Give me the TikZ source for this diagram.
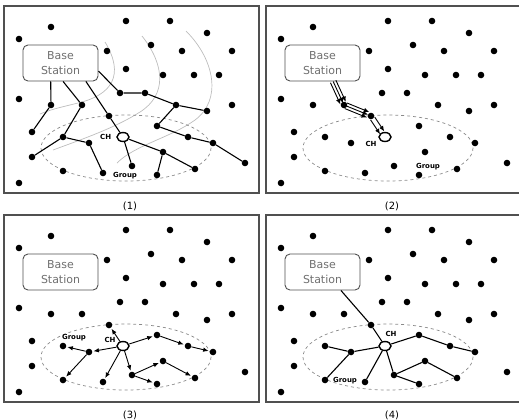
\documentclass[tikz,border=0pt]{standalone}
\usepackage{fontspec}
\setmainfont{DejaVu Sans}
\usetikzlibrary{positioning,arrows.meta,calc,shapes.geometric}
\definecolor{framegray}{HTML}{505050}
\definecolor{curvegray}{HTML}{BDBDBD}
\definecolor{textgray}{HTML}{707070}
\definecolor{dashgray}{HTML}{8A8A8A}

\tikzset{
  sensor/.style={circle, fill=black, inner sep=0pt, minimum size=6.6bp},
  head/.style={ellipse, draw=black, line width=1.4bp, fill=white, inner sep=0pt, minimum width=12bp, minimum height=9bp},
  bsbox/.style={draw=framegray, rounded corners=5bp, line width=0.9bp, fill=white, minimum width=75bp, minimum height=36bp, align=center, text=textgray, font=\fontsize{11}{14.5}\selectfont},
  panel/.style={draw=framegray, line width=1.4bp},
  group/.style={draw=dashgray, dashed, line width=0.7bp},
  link/.style={line width=1.1bp},
  flow/.style={line width=0.9bp, -{Latex[length=5.5bp,width=4.5bp]}},
  tag/.style={inner sep=0pt, font=\bfseries\fontsize{7}{8}\selectfont},
  caption/.style={font=\fontsize{10}{12}\selectfont}
}

% one panel: frame, sensors, group, base station and cluster head
\newcommand\dotfield[2]{%
  \draw[panel] (4,6) rectangle (259,193);
  \draw[group] (126,148) ellipse [x radius=85, y radius=33];
  \foreach \n/\x/\y in {1/51/27, 2/19/39, 3/126/21, 4/170/21, 5/207/33, 6/151/45,
      7/107/51, 8/182/51, 9/232/51, 10/126/69, 11/163/75, 12/194/75, 13/219/75,
      14/19/99, 15/51/105, 16/82/105, 17/120/93, 18/145/93, 19/176/105, 20/207/111,
      21/232/105, 22/109/116, 23/32/132, 24/157/126, 25/63/137, 26/89/143,
      27/188/137, 28/213/143, 29/32/157, 30/163/152, 31/132/166, 32/245/163,
      33/63/171, 34/103/173, 35/157/175, 36/195/169, 37/19/183}
    \node[sensor] (#1\n) at (\x,\y) {};
  \node[head] (#1CH) at (123,137) {};
  \node[bsbox] (#1bs) at (60.5,63) {Base\\Station};
  \node[caption] (#1cap) at (130,206) {(#2)};
}

\begin{document}
\begin{tikzpicture}[x=1bp, y=-1bp]
\useasboundingbox (0,0) rectangle (519,419);

% (1) flooding from the base station
\begin{scope}
  \draw[curvegray, line width=0.7bp] (105,42) .. controls (125,75) and (112,95) .. (78,103) .. controls (62,107) and (52,109) .. (40,114);
  \draw[curvegray, line width=0.7bp] (142,36) .. controls (165,65) and (167,95) .. (140,112) .. controls (115,128) and (80,140) .. (53,150);
  \draw[curvegray, line width=0.7bp] (186,31) .. controls (215,60) and (222,100) .. (195,120) .. controls (170,138) and (135,145) .. (117,163);
  \dotfield{a}{1}
  \draw[link] (abs.242) -- (a15) -- (a23);
  \draw[link] (abs.278) -- (a16) -- (a25) -- (a29);
  \draw[link] (a25) -- (a26) -- (a34);
  \draw[link] (abs.324) -- (a22) -- (aCH);
  \draw[link] (abs.348) -- (a17) -- (a18) -- (a19) -- (a20);
  \draw[link] (a19) -- (a24) -- (a27) -- (a28) -- (a32);
  \draw[link] (aCH) -- (a30) -- (a36);
  \draw[link] (a30) -- (a35);
  \draw[link] (aCH) -- (a31);
  \node[tag, left=5bp of aCH] (achl) {CH};
  \node[tag] (agrp) at (125,176) {Group};
\end{scope}

% (2) query towards the cluster head
\begin{scope}[shift={(262,0)}]
  \dotfield{b}{2}
  \foreach \o in {-3,0,3} {
    \draw[flow, shorten >=2bp] ($(bbs.300)!\o pt!90:(b16)$) -- ($(b16)!\o pt!-90:(bbs.300)$);
    \draw[flow, shorten <=2bp, shorten >=3bp] ($(b16)!\o pt!90:(b22)$) -- ($(b22)!\o pt!-90:(b16)$);
  }
  \foreach \o in {-2.5,2.5}
    \draw[flow, shorten <=3bp, shorten >=5bp] ($(b22)!\o pt!90:(bCH)$) -- ($(bCH)!\o pt!-90:(b22)$);
  \node[tag] (bchl) at (109,144) {CH};
  \node[tag] (bgrp) at (166,167) {Group};
\end{scope}

% (3) cluster head sets up its group
\begin{scope}[shift={(0,209)}]
  \dotfield{c}{3}
  \draw[flow, shorten >=1bp] (cCH) -- (c22);
  \draw[flow, shorten >=1bp] (cCH) -- (c24);
  \draw[flow, shorten >=1bp] (cCH) -- (c26);
  \draw[flow, shorten >=1bp] (cCH) -- (c34);
  \draw[flow, shorten >=1bp] (cCH) -- (c31);
  \draw[flow, shorten >=1bp] (c26) -- (c25);
  \draw[flow, shorten >=1bp] (c26) -- (c33);
  \draw[flow, shorten >=1bp] (c31) -- (c30);
  \draw[flow, shorten >=1bp] (c31) -- (c35);
  \draw[flow, shorten >=1bp] (c24) -- (c27);
  \draw[flow, shorten >=1bp] (c27) -- (c28);
  \draw[flow, shorten >=1bp] (c30) -- (c36);
  \node[tag] (cchl) at (110,131) {CH};
  \node[tag] (cgrp) at (74,129) {Group};
\end{scope}

% (4) group tree and single path to the base station
\begin{scope}[shift={(262,209)}]
  \dotfield{d}{4}
  \draw[link] (dbs.315) -- (d22) -- (dCH);
  \draw[link] (dCH) -- (d24) -- (d27) -- (d28);
  \draw[link] (dCH) -- (d26) -- (d25);
  \draw[link] (d26) -- (d33);
  \draw[link] (dCH) -- (d34);
  \draw[link] (dCH) -- (d31) -- (d30) -- (d36);
  \draw[link] (d31) -- (d35);
  \node[tag] (dchl) at (129,125) {CH};
  \node[tag] (dgrp) at (83,172) {Group};
\end{scope}
\end{tikzpicture}
\end{document}
